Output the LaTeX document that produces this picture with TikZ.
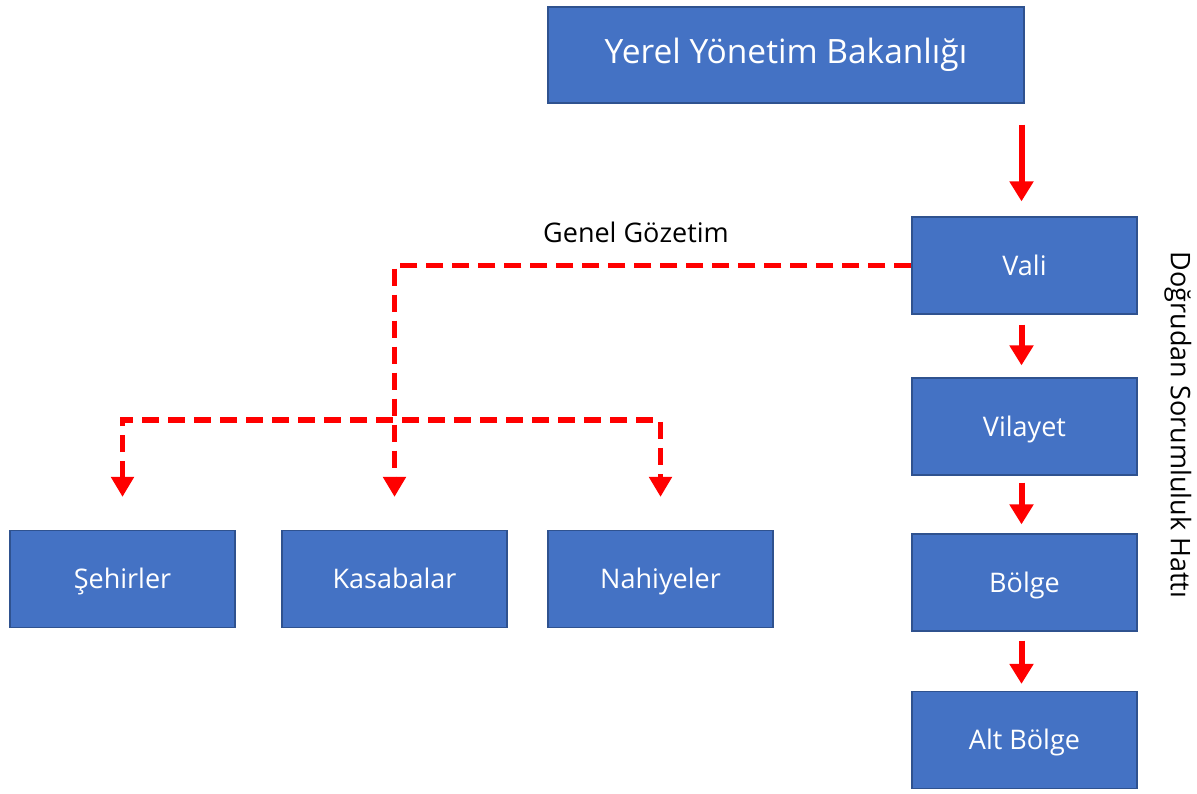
\documentclass[tikz,border=0pt]{standalone}
\usepackage{fontspec}
\setmainfont{Open Sans}
\usetikzlibrary{arrows.meta}
\definecolor{boxblue}{HTML}{4472C4}
\definecolor{boxedge}{HTML}{2F528F}
\begin{document}
\begin{tikzpicture}[x=1pt, y=-1pt,
					box/.style = {draw=boxedge, line width=1.2pt, fill=boxblue, text=white, minimum width=225pt, minimum height=97pt, font=\fontsize{27}{32}\selectfont, inner sep=0pt, text height=30pt, text depth=11pt},
					topbox/.style = {box, minimum width=476pt, minimum height=96pt, font=\fontsize{33.5}{40}\selectfont, text height=30pt, text depth=14pt},
					solidarrow/.style = {red, line width=6pt, -{Triangle[width=23pt, length=20pt]}},
					dasharrow/.style = {red, line width=5.5pt, dash pattern=on 17pt off 9pt, {Triangle[width=22pt, length=20pt]}-{Triangle[width=22pt, length=20pt]}, shorten <=33pt, shorten >=33pt},
					label/.style = {text=black, font=\fontsize{27}{32}\selectfont}
				]
				\useasboundingbox (0,0) rectangle (1197,793);

				% boxes
				\node[topbox] (bakanlik) at (786,55) {Yerel Yönetim Bakanlığı};
				\node[box] (vali) at (1024.5,265.5) {Vali};
				\node[box] (vilayet) at (1024.5,426.5) {Vilayet};
				\node[box] (bolge) at (1024.5,582.5) {Bölge};
				\node[box] (altbolge) at (1024.5,740) {Alt Bölge};
				\node[box] (sehirler) at (122.5,579) {Şehirler};
				\node[box] (kasabalar) at (394.5,579) {Kasabalar};
				\node[box] (nahiyeler) at (660.5,579) {Nahiyeler};

				% labels
				\node[label] (gozetim) at (636,232) {Genel Gözetim};
				\node[label, rotate=-90] (hatti) at (1178,425) {Doğrudan Sorumluluk Hattı};

				% direct line
				\draw[solidarrow, shorten <=21pt, shorten >=15pt] ([xshift=-3pt]bakanlik.south -| vali.north) -- ([xshift=-3pt]vali.north);
				\draw[solidarrow, shorten <=10pt, shorten >=12pt] ([xshift=-3pt]vali.south) -- ([xshift=-3pt]vilayet.north);
				\draw[solidarrow, shorten <=7pt, shorten >=9pt] ([xshift=-3pt]vilayet.south) -- ([xshift=-3pt]bolge.north);
				\draw[solidarrow, shorten <=9pt, shorten >=7pt] ([xshift=-3pt]bolge.south) -- ([xshift=-3pt]altbolge.north);

				% general supervision
				\coordinate (bus) at (394.5,420);
				\draw[dasharrow, -{Triangle[width=22pt, length=20pt]}, shorten <=0pt] (vali.west) -| (kasabalar.north);
				\draw[dasharrow] (sehirler.north) |- (bus) -| (nahiyeler.north);
			\end{tikzpicture}
\end{document}
